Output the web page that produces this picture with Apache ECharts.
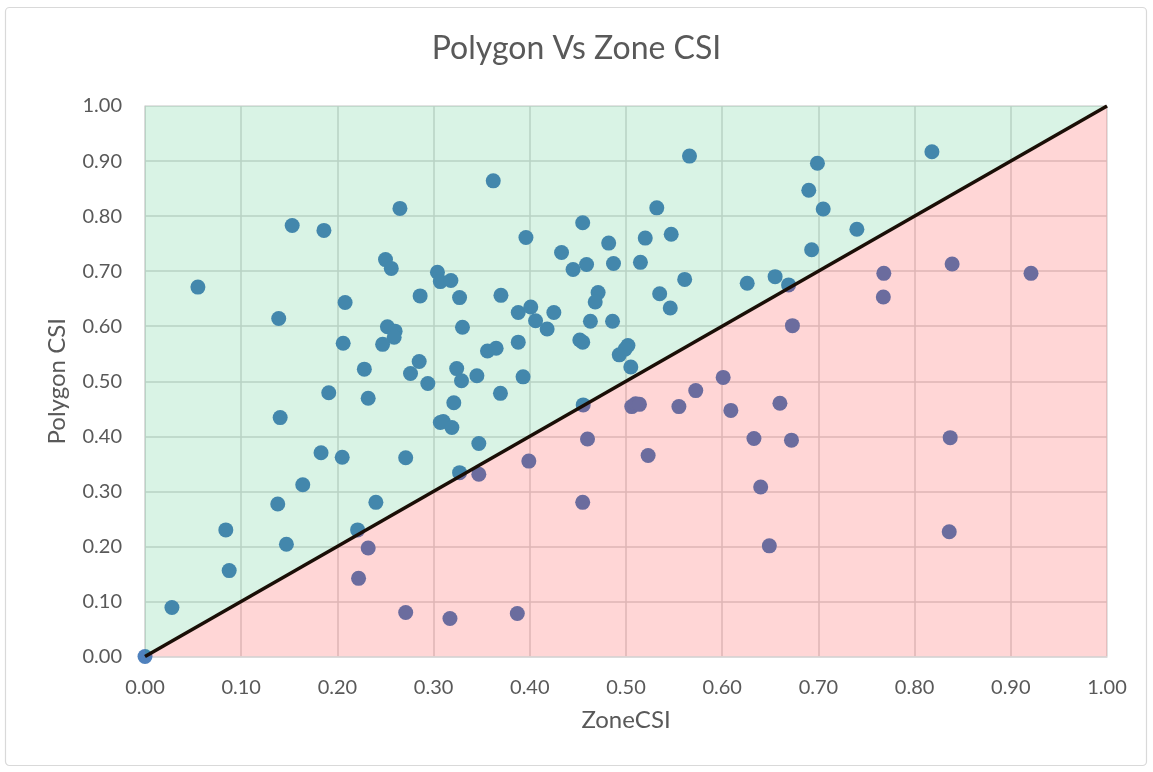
<!DOCTYPE html>
<html>
<head>
<meta charset="utf-8">
<script src="https://cdn.jsdelivr.net/npm/echarts@6/dist/echarts.min.js"></script>
<style>html,body{margin:0;padding:0;background:#fff;}#c{width:1153px;height:772px;}</style>
</head>
<body>
<div id="c"></div>
<script>
const chartTitle = 'Polygon Vs Zone CSI';
const xName = 'ZoneCSI';
const yName = 'Polygon CSI';

const zoneCSI = [
  0.265,0.153,0.186,0.250,0.256,0.304,0.307,0.318,0.055,0.286,
  0.327,0.208,0.139,0.330,0.252,0.260,0.259,0.206,0.247,0.228,
  0.285,0.276,0.324,0.329,0.294,0.191,0.566,0.362,0.532,0.455,
  0.396,0.547,0.520,0.482,0.433,0.459,0.445,0.487,0.515,0.370,
  0.561,0.626,0.471,0.468,0.535,0.546,0.388,0.401,0.406,0.425,
  0.418,0.463,0.486,0.388,0.452,0.455,0.502,0.499,0.493,0.505,
  0.356,0.365,0.345,0.393,0.232,0.1405,0.321,0.307,0.310,0.319,
  0.183,0.205,0.271,0.164,0.327,0.138,0.240,0.084,0.221,0.147,
  0.0875,0.028,0.000,0.3695,0.347,0.4555,0.818,0.699,0.690,0.705,
  0.740,0.693,0.655,0.669,
  0.232,0.222,0.271,0.317,0.347,0.399,0.460,0.455,0.506,0.510,
  0.514,0.523,0.555,0.5725,0.601,0.609,0.633,0.640,0.387,0.768,
  0.7675,0.839,0.921,0.673,0.660,0.672,0.837,0.649,0.836
];
const polygonCSI = [
  0.814,0.783,0.774,0.721,0.705,0.698,0.681,0.683,0.671,0.655,
  0.652,0.643,0.614,0.598,0.599,0.591,0.580,0.569,0.567,0.522,
  0.536,0.514,0.523,0.501,0.496,0.479,0.909,0.864,0.815,0.788,
  0.761,0.767,0.760,0.751,0.734,0.712,0.703,0.714,0.716,0.656,
  0.685,0.678,0.661,0.644,0.659,0.633,0.625,0.635,0.610,0.625,
  0.595,0.609,0.609,0.571,0.575,0.571,0.565,0.558,0.548,0.526,
  0.555,0.560,0.510,0.508,0.469,0.434,0.461,0.425,0.427,0.416,
  0.370,0.362,0.361,0.312,0.334,0.277,0.280,0.230,0.230,0.204,
  0.156,0.089,0.000,0.478,0.387,0.457,0.917,0.896,0.847,0.813,
  0.776,0.739,0.690,0.675,
  0.197,0.142,0.080,0.069,0.331,0.355,0.395,0.280,0.454,0.459,
  0.458,0.365,0.454,0.483,0.507,0.447,0.396,0.308,0.078,0.696,
  0.653,0.713,0.696,0.601,0.460,0.393,0.3975,0.201,0.2265
];
// y = x reference line endpoints
const refLine = [0, 1];

const points = zoneCSI.map((x, i) => [x, polygonCSI[i]]);
const diag = refLine.map(v => [v, v]);

const FONT = 'Lato';
const TXT = '#595959';
const GRID = '#d9d9d9';

const chart = echarts.init(document.getElementById('c'), null, {renderer: 'canvas'});
chart.setOption({
  animation: false,
  backgroundColor: '#ffffff',
  title: {
    text: chartTitle,
    left: 'center',
    top: 28,
    textStyle: {fontFamily: FONT, fontSize: 32, fontWeight: 'normal', color: TXT}
  },
  graphic: [{
    type: 'rect',
    shape: {x: 5.5, y: 7.5, width: 1141, height: 758, r: 4},
    style: {fill: 'none', stroke: GRID, lineWidth: 1.2},
    silent: true
  }],
  grid: {left: 145, right: 46, top: 106, bottom: 115.5},
  xAxis: {
    type: 'value', min: 0, max: 1, interval: 0.1,
    name: xName, nameLocation: 'middle', nameGap: 52,
    nameTextStyle: {fontFamily: FONT, fontSize: 24, color: TXT},
    axisLine: {show: true, lineStyle: {color: GRID, width: 1.5}},
    axisTick: {show: false},
    axisLabel: {fontFamily: FONT, fontSize: 20, color: TXT, margin: 21, formatter: v => v.toFixed(2)},
    splitLine: {show: true, lineStyle: {color: GRID, width: 1.5}}
  },
  yAxis: {
    type: 'value', min: 0, max: 1, interval: 0.1,
    name: yName, nameLocation: 'middle', nameGap: 76, nameRotate: 90,
    nameTextStyle: {fontFamily: FONT, fontSize: 24, color: TXT},
    axisLine: {show: true, lineStyle: {color: GRID, width: 1.5}},
    axisTick: {show: false},
    axisLabel: {fontFamily: FONT, fontSize: 20, color: TXT, margin: 23, formatter: v => v.toFixed(2)},
    splitLine: {show: true, lineStyle: {color: GRID, width: 1.5}}
  },
  series: [
    {
      type: 'scatter', data: points, symbolSize: 15, clip: false, z: 1,
      itemStyle: {color: '#4f81bd', opacity: 1}
    },
    {
      type: 'line', data: diag, symbol: 'none', z: 3, silent: true,
      lineStyle: {width: 0, opacity: 0},
      areaStyle: {origin: 'end', color: 'rgba(0,176,80,0.15)', opacity: 1}
    },
    {
      type: 'line', data: diag, symbol: 'none', z: 3, silent: true,
      lineStyle: {width: 0, opacity: 0},
      areaStyle: {origin: 'start', color: 'rgba(255,0,0,0.16)', opacity: 1}
    },
    {
      type: 'line', data: diag, symbol: 'none', z: 4, silent: true,
      lineStyle: {width: 3.5, color: '#1a0e06'}
    }
  ]
});
</script>
</body>
</html>
